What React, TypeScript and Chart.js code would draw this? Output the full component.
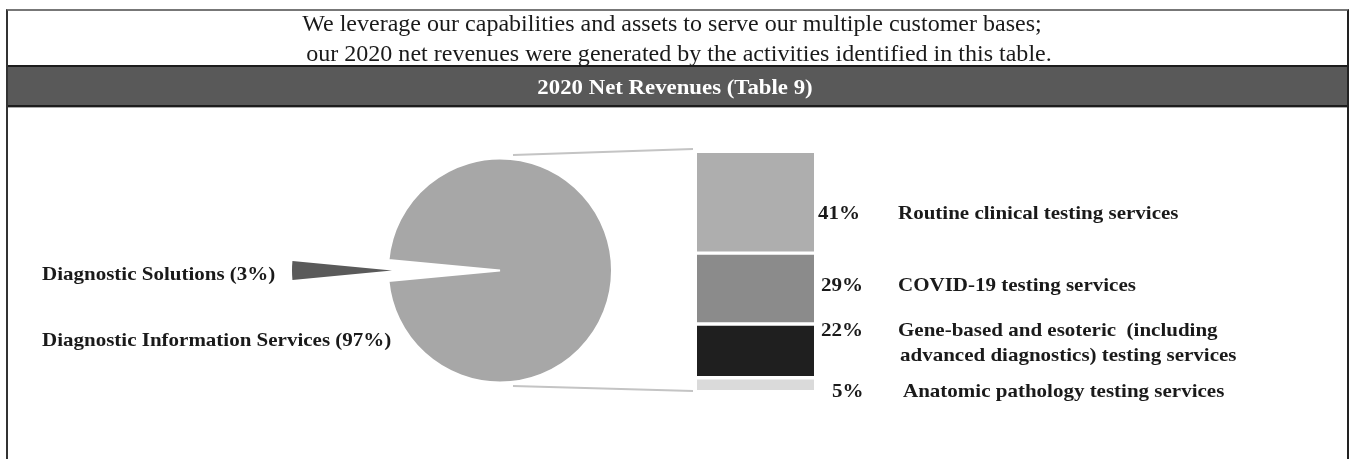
import React, { useEffect, useRef } from "react";
import { Chart, registerables } from "chart.js";

Chart.register(...registerables);

const W = 1349;
const H = 459;

// ---- data ----
const pieLabels = ["Diagnostic Information Services", "Diagnostic Solutions"];
const pieValues = [97, 3];
const pieColors = ["#a7a7a7", "#5a5a5a"];

const barLabels = [
  "Anatomic pathology testing services",
  "Gene-based and esoteric (including advanced diagnostics) testing services",
  "COVID-19 testing services",
  "Routine clinical testing services",
];
const barValues = [5, 22, 29, 41];
const barColors = ["#dadada", "#1f1f1f", "#8b8b8b", "#aeaeae"];

const headerLines = [
  "We leverage our capabilities and assets to serve our multiple customer bases;",
  "our 2020 net revenues were generated by the activities identified in this table.",
];
const titleText = "2020 Net Revenues (Table 9)";
const pieTextLabels = ["Diagnostic Solutions (3%)", "Diagnostic Information Services (97%)"];
const pctLabels = ["41%", "29%", "22%", "5%"];
const catLabels = [
  ["Routine clinical testing services"],
  ["COVID-19 testing services"],
  ["Gene-based and esoteric\u00a0 (including", "advanced diagnostics) testing services"],
  ["Anatomic pathology testing services"],
];

const SERIF = '"Liberation Serif", "Times New Roman", serif';
const TRANSPARENT = "rgba(0,0,0,0)";

type LabelProps = {
  x: number;
  baseline: number;
  size: number;
  bold?: boolean;
  color?: string;
  align?: "left" | "right" | "center";
  sx?: number;
  text: string;
};

function Label({ x, baseline, size, bold, color, align = "left", sx = 1, text }: LabelProps) {
  const top = baseline - size * 0.8375;
  const style: React.CSSProperties = {
    position: "absolute",
    top,
    fontFamily: SERIF,
    fontSize: size,
    lineHeight: `${size}px`,
    fontWeight: bold ? 700 : 400,
    color: color || "#111",
    whiteSpace: "pre",
    transform: `scaleX(${sx})`,
  };
  if (align === "left") {
    style.left = x;
    style.transformOrigin = "left center";
  } else if (align === "right") {
    style.right = W - x;
    style.textAlign = "right";
    style.transformOrigin = "right center";
  } else {
    style.left = x - 600;
    style.width = 1200;
    style.textAlign = "center";
    style.transformOrigin = "center center";
  }
  return <div style={style}>{text}</div>;
}

export default function App() {
  const pieRef = useRef<HTMLCanvasElement>(null);
  const sliceRef = useRef<HTMLCanvasElement>(null);
  const barRef = useRef<HTMLCanvasElement>(null);

  useEffect(() => {
    if (!pieRef.current || !barRef.current || !sliceRef.current) return;
    const rotation = 275.4; // centres the small slice on the left side
    const commonOpts: any = {
      responsive: false,
      animation: false,
      plugins: { legend: { display: false }, tooltip: { enabled: false } },
    };

    // main pie: the small slice is pulled out (drawn by the second pie)
    const pie = new Chart(pieRef.current, {
      type: "pie",
      data: {
        labels: pieLabels,
        datasets: [
          {
            data: pieValues,
            backgroundColor: [pieColors[0], TRANSPARENT],
            borderColor: "#ffffff",
            borderWidth: [2, 0],
            radius: 112,
            rotation,
          } as any,
        ],
      },
      options: { ...commonOpts, layout: { padding: { left: 300, right: 649, top: 140, bottom: 58 } } },
    });

    // exploded slice
    const slice = new Chart(sliceRef.current, {
      type: "pie",
      data: {
        labels: pieLabels,
        datasets: [
          {
            data: pieValues,
            backgroundColor: [TRANSPARENT, pieColors[1]],
            borderWidth: 0,
            radius: 100,
            rotation,
          } as any,
        ],
      },
      options: { ...commonOpts, layout: { padding: { left: 192, right: W - 592, top: 140, bottom: 58 } } },
    });

    const connectors = {
      id: "connectors",
      afterDraw(chart: any) {
        const arc: any = pie.getDatasetMeta(0).data[0];
        if (!arc) return;
        const cx = arc.x;
        const cy = arc.y;
        const r = arc.outerRadius;
        const bar: any = chart.getDatasetMeta(0).data[0];
        const left = bar.x - bar.width / 2;
        const { top, bottom } = chart.chartArea;
        const ctx = chart.ctx;
        ctx.save();
        ctx.strokeStyle = "#c4c4c4";
        ctx.lineWidth = 2;
        ctx.beginPath();
        ctx.moveTo(cx + 13, cy - r - 3.5);
        ctx.lineTo(left - 4, top - 4);
        ctx.moveTo(cx + 13, cy + r + 3.5);
        ctx.lineTo(left - 4, bottom + 1);
        ctx.stroke();
        ctx.restore();
      },
    };

    const last = barValues.length - 1;
    const bar = new Chart(barRef.current, {
      type: "bar",
      data: {
        labels: [""],
        datasets: barValues.map((v, i) => ({
          label: barLabels[i],
          data: [v],
          backgroundColor: barColors[i],
          borderColor: "#ffffff",
          borderWidth: { top: i === last ? 0 : 2, bottom: i === 0 ? 0 : 2, left: 0, right: 0 },
          borderSkipped: false,
          barPercentage: 1,
          categoryPercentage: 1,
        })),
      },
      options: {
        ...commonOpts,
        layout: { padding: { left: 697, right: W - 814, top: 153, bottom: H - 390 } },
        scales: {
          x: { stacked: true, display: false },
          y: { stacked: true, display: false, min: 0, max: 97 },
        },
      },
      plugins: [connectors],
    });

    return () => {
      bar.destroy();
      slice.destroy();
      pie.destroy();
    };
  }, []);

  const canvasStyle: React.CSSProperties = { position: "absolute", left: 0, top: 0, width: W, height: H };
  const ink = "#1a1a1a";

  return (
    <div style={{ position: "absolute", left: 0, top: 0, width: W, height: H, overflow: "hidden", background: "#fff" }}>
      <div
        style={{
          position: "absolute",
          left: 6,
          top: 9,
          width: 1343,
          height: 470,
          boxSizing: "border-box",
          borderLeft: "2px solid #333",
          borderRight: "2px solid #222",
          borderTop: "2px solid #777",
        }}
      />
      <div
        style={{
          position: "absolute",
          left: 8,
          top: 65,
          width: 1339,
          height: 42,
          boxSizing: "border-box",
          background: "#595959",
          borderTop: "2px solid #1c1c1c",
          borderBottom: "2px solid #1c1c1c",
        }}
      />
      <div style={{ position: "absolute", left: 8, top: 107, width: 1339, height: 1, background: "#aaa" }} />
      <canvas ref={pieRef} width={W} height={H} style={canvasStyle} />
      <canvas ref={sliceRef} width={W} height={H} style={canvasStyle} />
      <canvas ref={barRef} width={W} height={H} style={canvasStyle} />

      <Label x={672} baseline={31} size={23} sx={1.045} align="center" text={headerLines[0]} color={ink} />
      <Label x={679} baseline={61} size={23} sx={1.045} align="center" text={headerLines[1]} color={ink} />
      <Label x={675} baseline={94} size={20} sx={1.14} bold align="center" text={titleText} color="#ffffff" />

      <Label x={42} baseline={280} size={19} sx={1.105} bold text={pieTextLabels[0]} color={ink} />
      <Label x={42} baseline={346} size={19} sx={1.105} bold text={pieTextLabels[1]} color={ink} />

      <Label x={860} baseline={219} size={19} sx={1.105} bold align="right" text={pctLabels[0]} color={ink} />
      <Label x={863} baseline={291} size={19} sx={1.105} bold align="right" text={pctLabels[1]} color={ink} />
      <Label x={863} baseline={336} size={19} sx={1.105} bold align="right" text={pctLabels[2]} color={ink} />
      <Label x={863} baseline={397} size={19} sx={1.105} bold align="right" text={pctLabels[3]} color={ink} />

      <Label x={898} baseline={219} size={19} sx={1.105} bold text={catLabels[0][0]} color={ink} />
      <Label x={898} baseline={291} size={19} sx={1.105} bold text={catLabels[1][0]} color={ink} />
      <Label x={898} baseline={336} size={19} sx={1.105} bold text={catLabels[2][0]} color={ink} />
      <Label x={900} baseline={361} size={19} sx={1.105} bold text={catLabels[2][1]} color={ink} />
      <Label x={903} baseline={397} size={19} sx={1.105} bold text={catLabels[3][0]} color={ink} />
    </div>
  );
}
